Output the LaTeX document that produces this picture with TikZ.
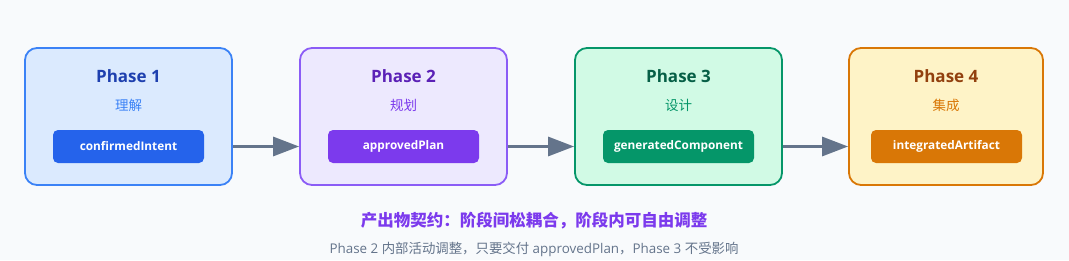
\documentclass[tikz,border=0pt]{standalone}
\usepackage{fontspec}
\setmainfont{Open Sans}
\newfontfamily\cjk{Noto Sans CJK SC}
\usetikzlibrary{arrows.meta}
\definecolor{bg}{HTML}{F8FAFC}
\definecolor{arr}{HTML}{64748B}
\definecolor{fA}{HTML}{DBEAFE}\definecolor{bA}{HTML}{3B82F6}\definecolor{tA}{HTML}{1E40AF}\definecolor{pA}{HTML}{2563EB}
\definecolor{fB}{HTML}{EDE9FE}\definecolor{bB}{HTML}{8B5CF6}\definecolor{tB}{HTML}{5B21B6}\definecolor{sB}{HTML}{7C3AED}\definecolor{pB}{HTML}{7C3AED}
\definecolor{fC}{HTML}{D1FAE5}\definecolor{bC}{HTML}{059669}\definecolor{tC}{HTML}{065F46}\definecolor{pC}{HTML}{059669}
\definecolor{fD}{HTML}{FEF3C7}\definecolor{bD}{HTML}{D97706}\definecolor{tD}{HTML}{92400E}\definecolor{pD}{HTML}{D97706}
\definecolor{note}{HTML}{7C3AED}
\definecolor{sub}{HTML}{64748B}
\begin{document}
\begin{tikzpicture}[x=1pt,y=-1pt,
  phasebox/.style={draw, line width=1.8pt, rounded corners=12pt, minimum height=137pt, inner sep=0pt},
  ptitle/.style={font=\fontsize{17}{20}\selectfont\bfseries, inner sep=0pt},
  psub/.style={font=\cjk\fontsize{13.5}{16}\selectfont, inner sep=0pt},
  pill/.style={rounded corners=5pt, minimum width=151pt, minimum height=33pt, inner sep=0pt, text=white, font=\fontsize{11.8}{14}\selectfont\bfseries},
  flow/.style={draw=arr, line width=3pt, -{Triangle[length=26pt,width=19pt]}}
]
\fill[bg] (0,0) rectangle (1069,260);
\useasboundingbox (0,0) rectangle (1069,260);

% Phase 1
\node[phasebox, draw=bA, fill=fA, minimum width=207pt] (p1) at (128.5,116.5) {};
\node[ptitle, text=tA] (t1) at (128.5,76) {Phase 1};
\node[psub, text=bA] (s1) at (128.5,105) {理解};
\node[pill, fill=pA] (a1) at (128.5,146.5) {confirmedIntent};

% Phase 2
\node[phasebox, draw=bB, fill=fB, minimum width=207pt] (p2) at (403.5,116.5) {};
\node[ptitle, text=tB] (t2) at (403.5,76) {Phase 2};
\node[psub, text=sB] (s2) at (403.5,105) {规划};
\node[pill, fill=pB] (a2) at (403.5,146.5) {approvedPlan};

% Phase 3
\node[phasebox, draw=bC, fill=fC, minimum width=207pt] (p3) at (678.5,116.5) {};
\node[ptitle, text=tC] (t3) at (678.5,76) {Phase 3};
\node[psub, text=bC] (s3) at (678.5,105) {设计};
\node[pill, fill=pC] (a3) at (678.5,146.5) {generatedComponent};

% Phase 4
\node[phasebox, draw=bD, fill=fD, minimum width=194pt] (p4) at (946,116.5) {};
\node[ptitle, text=tD] (t4) at (946,76) {Phase 4};
\node[psub, text=bD] (s4) at (946,105) {集成};
\node[pill, fill=pD] (a4) at (946.5,146.5) {integratedArtifact};

% arrows
\draw[flow] (p1.east |- a1) -- (p2.west |- a2);
\draw[flow] (p2.east |- a2) -- (p3.west |- a3);
\draw[flow] (p3.east |- a3) -- (p4.west |- a4);

% notes
\node[font=\cjk\fontsize{16.5}{20}\selectfont\bfseries, text=note, inner sep=0pt] (n1) at (534,221) {产出物契约：阶段间松耦合，阶段内可自由调整};
\node[font=\fontsize{13.4}{16}\selectfont, text=sub, inner sep=0pt] (n2) at (534,249) {Phase 2 {\cjk 内部活动调整，只要交付} approvedPlan{\cjk ，}Phase 3 {\cjk 不受影响}};
\end{tikzpicture}
\end{document}
